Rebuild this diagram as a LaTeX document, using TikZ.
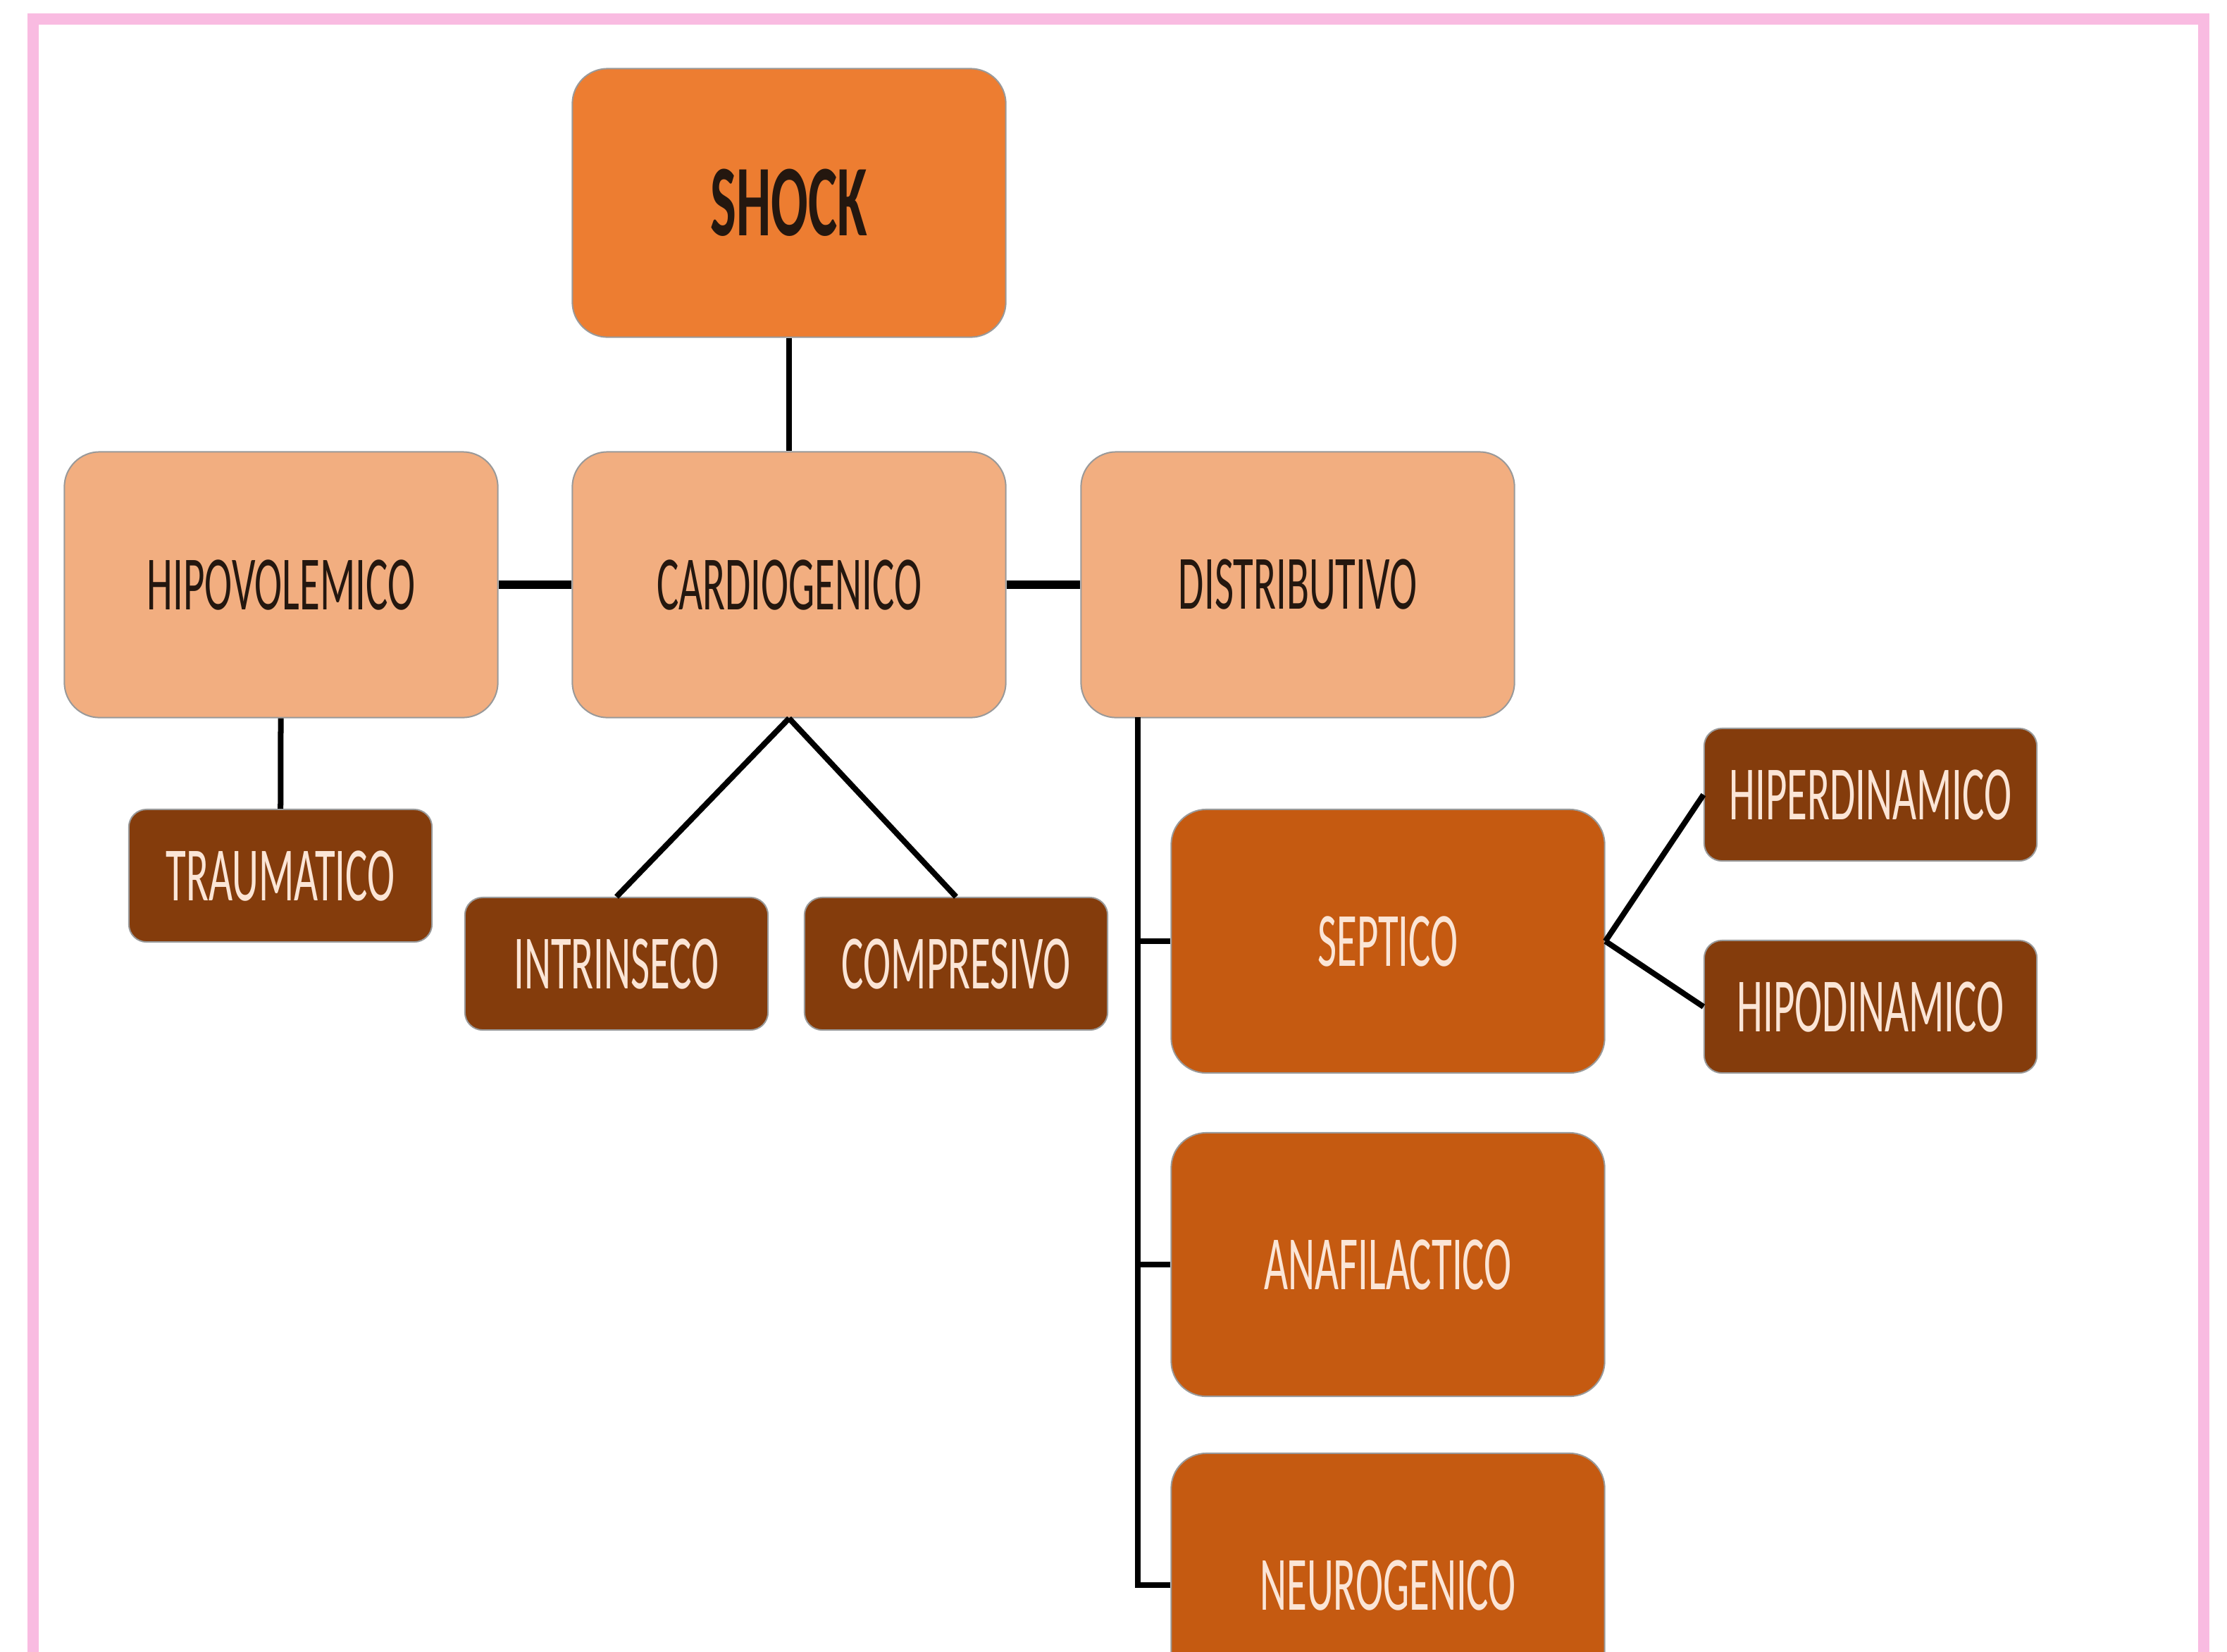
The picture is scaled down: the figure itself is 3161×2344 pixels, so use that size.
\documentclass[tikz,border=0pt]{standalone}
\usepackage{fontspec}
\setmainfont{Carlito}[FakeStretch=0.54]
\usepackage{xcolor}
\usepackage{tikz}
\usetikzlibrary{positioning,calc}

\definecolor{framepink}{HTML}{F9BBE1}
\definecolor{shockorange}{HTML}{ED7D31}
\definecolor{lightpeach}{HTML}{F2AE80}
\definecolor{midorange}{HTML}{C55A11}
\definecolor{darkbrown}{HTML}{843C0C}
\definecolor{cream}{HTML}{FBE5D6}
\definecolor{darktext}{HTML}{24170F}

\tikzset{
    catbox/.style={rectangle, rounded corners=0.5cm, draw=black!40, line width=0.02cm,
        minimum width=6.15cm, minimum height=3.77cm, align=center,
        font=\fontsize{31}{36}\selectfont},
    shockbox/.style={catbox, fill=shockorange, text=darktext, minimum height=3.81cm,
        font=\fontsize{41}{48}\selectfont\bfseries},
    typebox/.style={catbox, fill=lightpeach, text=darktext},
    subbox/.style={catbox, fill=midorange, text=cream, minimum height=3.74cm},
    leafbox/.style={catbox, fill=darkbrown, text=cream, rounded corners=0.25cm,
        minimum width=4.3cm, minimum height=1.88cm},
    link/.style={line width=0.08cm},
    thicklink/.style={line width=0.12cm}
}

\begin{document}
\begin{tikzpicture}[x=0.01cm, y=-0.01cm]
    \useasboundingbox (0,0) rectangle (3161,2344);

    % Frame
    \draw[framepink, line width=0.16cm] (47,27) rectangle (3128,2420);

    % Shock
    \node[shockbox] (shock) at (1120,288) {SHOCK};

    % Types
    \node[typebox] (hipo) at (399,830) {HIPOVOLEMICO};
    \node[typebox] (cardio) at (1120,830) {CARDIOGENICO};
    \node[typebox] (distrib) at (1842,830) {DISTRIBUTIVO};

    % Hipovolemico / Cardiogenico
    \node[leafbox] (trauma) at (398,1243) {TRAUMATICO};
    \node[leafbox] (intrin) at (875,1368) {INTRINSECO};
    \node[leafbox] (compre) at (1357,1368) {COMPRESIVO};

    % Distributivo
    \node[subbox] (septic) at (1970,1336) {SEPTICO};
    \node[subbox] (anafi) at (1970,1795) {ANAFILACTICO};
    \node[subbox] (neuro) at (1970,2250) {NEUROGENICO};

    % Septico
    \node[leafbox, minimum width=4.72cm] (hiper) at (2655,1128) {HIPERDINAMICO};
    \node[leafbox, minimum width=4.72cm] (hipod) at (2655,1429) {HIPODINAMICO};

    % Connectors
    \draw[link] (shock) -- (cardio);
    \draw[thicklink] (hipo) -- (cardio);
    \draw[thicklink] (cardio) -- (distrib);
    \draw[link] (hipo) -- (trauma);
    \draw[link] (cardio.south) -- (intrin.north);
    \draw[link] (cardio.south) -- (compre.north);

    \coordinate (trunk) at (1615,1018);
    \draw[link] (trunk) |- (neuro.west);
    \draw[link] (trunk |- septic.west) -- (septic.west);
    \draw[link] (trunk |- anafi.west) -- (anafi.west);

    \draw[link] (septic.east) -- (hiper.west);
    \draw[link] (septic.east) -- (hipod.west);
\end{tikzpicture}
\end{document}
